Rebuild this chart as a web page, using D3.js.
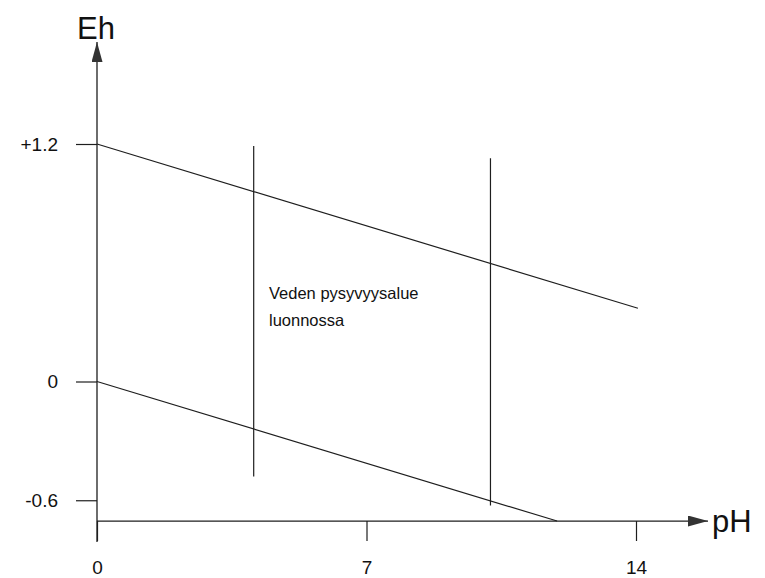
<!DOCTYPE html>
<html>
<head>
<meta charset="utf-8">
<script src="https://cdn.jsdelivr.net/npm/d3@7"></script>
<style>
  body { margin: 0; background: #fff; }
  svg { display: block; font-family: "Liberation Sans", Arial, sans-serif; }
</style>
</head>
<body>
<div id="chart"></div>
<script>
// Eh-pH diagram: water stability field
const xTicks = [0, 7, 14]
const yTicks = [1.2, 0, -0.6]
const upperLine = [[0, 1.2], [14.05, 0.37]]     // O2 / H2O
const lowerLine = [[0, 0], [11.95, -0.705]]     // H2O / H2
const naturalBounds = [                          // natural water pH range
  { ph: 4.07, top: 1.19, bottom: -0.48 },
  { ph: 10.22, top: 1.128, bottom: -0.626 }
]
const labelLines = ["Veden pysyvyysalue", "luonnossa"]

const width = 765
const height = 578
const ink = "#1e1e1e"
const font = "'Liberation Sans', Arial, sans-serif"

const x = d3.scaleLinear([0, 14], [97, 636])
const y = d3.scaleLinear([0, 1.2], [381.5, 144])
const axisY = y(-0.705)

const svg = d3.select("#chart").append("svg")
    .attr("width", width)
    .attr("height", height)
    .attr("viewBox", [0, 0, width, height])

// arrow head
svg.append("defs").append("marker")
    .attr("id", "arrow")
    .attr("viewBox", "0 0 20 11")
    .attr("refX", 20).attr("refY", 5.5)
    .attr("markerWidth", 20).attr("markerHeight", 11)
    .attr("markerUnits", "userSpaceOnUse")
    .attr("orient", "auto")
  .append("path")
    .attr("d", "M0,0L20,5.5L0,11Z")
    .attr("fill", "#333")

// Y axis
svg.append("line")
    .attr("x1", x(0)).attr("x2", x(0))
    .attr("y1", axisY + 21).attr("y2", 42)
    .attr("stroke", ink).attr("stroke-width", 1.3)
    .attr("marker-end", "url(#arrow)")

svg.append("g")
    .attr("transform", `translate(${x(0)},0)`)
    .call(d3.axisLeft(y).tickValues(yTicks).tickSize(21).tickPadding(18)
        .tickFormat(d => d > 0 ? "+" + d : String(d)))
    .call(g => g.select(".domain").remove())
    .call(g => g.selectAll(".tick line").attr("stroke", ink).attr("stroke-width", 1.2))
    .call(g => g.selectAll(".tick text").attr("fill", "#111").style("font-size", "19px")
        .style("font-family", font))

// X axis
svg.append("line")
    .attr("x1", x(0)).attr("x2", 708)
    .attr("y1", axisY).attr("y2", axisY)
    .attr("stroke", ink).attr("stroke-width", 1.3)
    .attr("marker-end", "url(#arrow)")

svg.append("g")
    .attr("transform", `translate(0,${axisY})`)
    .call(d3.axisBottom(x).tickValues(xTicks).tickSize(20).tickPadding(19).tickFormat(d3.format("d")))
    .call(g => g.select(".domain").remove())
    .call(g => g.selectAll(".tick line").attr("stroke", ink).attr("stroke-width", 1.2))
    .call(g => g.selectAll(".tick text").attr("fill", "#111").style("font-size", "19px")
        .style("font-family", font))

// axis titles
svg.append("text")
    .attr("x", x(0) - 1).attr("y", 39)
    .attr("text-anchor", "middle")
    .style("font-size", "31px").attr("fill", "#111")
    .text("Eh")
svg.append("text")
    .attr("x", 712).attr("y", axisY + 11)
    .style("font-size", "31px").attr("fill", "#111")
    .text("pH")

// stability lines
const line = d3.line().x(d => x(d[0])).y(d => y(d[1]))
svg.selectAll(".bound")
  .data([upperLine, lowerLine])
  .join("path")
    .attr("class", "bound")
    .attr("d", line)
    .attr("fill", "none")
    .attr("stroke", ink)
    .attr("stroke-width", 1.2)

// natural water range
svg.selectAll(".nat")
  .data(naturalBounds)
  .join("line")
    .attr("class", "nat")
    .attr("x1", d => x(d.ph)).attr("x2", d => x(d.ph))
    .attr("y1", d => y(d.top)).attr("y2", d => y(d.bottom))
    .attr("stroke", ink)
    .attr("stroke-width", 1.2)

svg.append("text")
    .attr("x", 269).attr("y", 299)
    .style("font-size", "16.5px").attr("fill", "#111")
  .selectAll("tspan")
  .data(labelLines)
  .join("tspan")
    .attr("x", 269)
    .attr("dy", (d, i) => i === 0 ? 0 : 27)
    .text(d => d)
</script>
</body>
</html>
